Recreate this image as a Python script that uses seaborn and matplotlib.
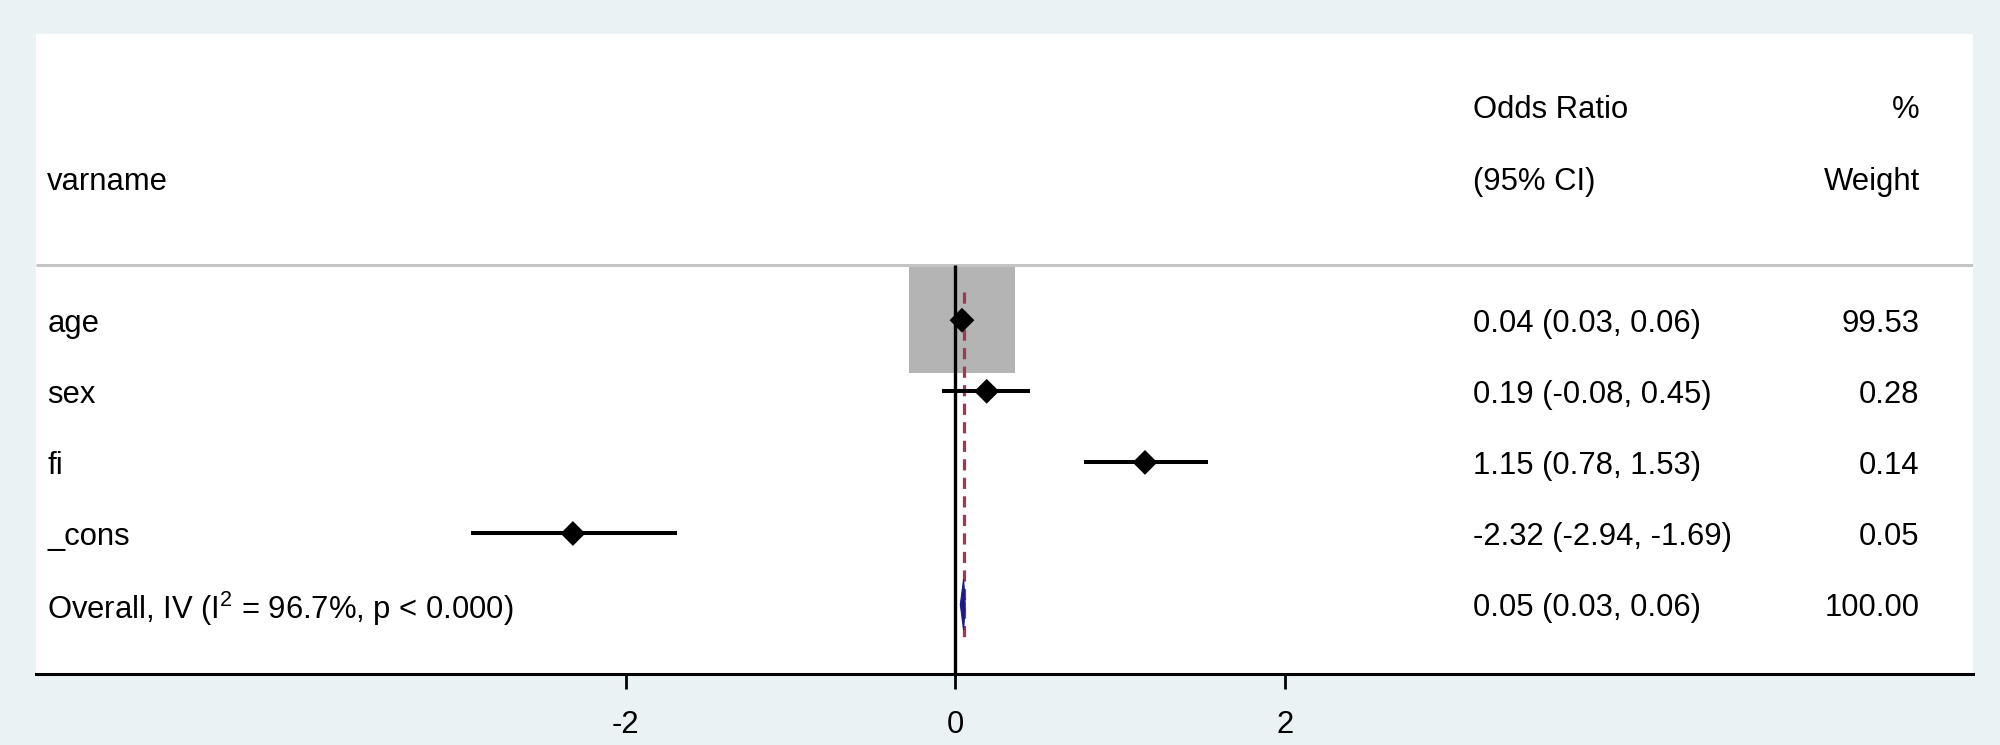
import matplotlib
matplotlib.use("Agg")
import matplotlib.pyplot as plt
from matplotlib.patches import Rectangle, Polygon
import seaborn as sns
import numpy as np
import pandas as pd

# study rows (coefficient estimates with 95% CI and % weight)
labels = ["age", "sex", "fi", "_cons"]
est = [0.04, 0.19, 1.15, -2.32]
lo = [0.03, -0.08, 0.78, -2.94]
hi = [0.06, 0.45, 1.53, -1.69]
weights = [99.53, 0.28, 0.14, 0.05]

# pooled estimate
overall_est = 0.05
overall_lo = 0.03
overall_hi = 0.06
overall_i2 = 96.7
overall_p = "0.000"

xticks = [-2, 0, 2]

sns.set_theme(style="white")
plt.rcParams["font.family"] = ["Liberation Sans", "DejaVu Sans"]
plt.rcParams["mathtext.fontset"] = "custom"
plt.rcParams["mathtext.rm"] = "Liberation Sans"
plt.rcParams["text.color"] = "black"
plt.rcParams["xtick.color"] = "black"
plt.rcParams["xtick.labelcolor"] = "black"

BG = "#EAF2F3"
FS = 22.3

fig = plt.figure(figsize=(20, 7.45), dpi=100, facecolor=BG)
ax = fig.add_axes([0.0179, 0.0959, 0.9687, 0.8579])
ax.set_facecolor("white")

xmin, xmax = -5.578, 6.174
ymin, ymax = -4.02, 4.97
ax.set_xlim(xmin, xmax)
ax.set_ylim(ymax, ymin)

rows = np.arange(len(labels))
df = pd.DataFrame({"label": labels, "est": est, "lo": lo, "hi": hi,
                   "weight": weights, "row": rows})
overall_row = len(labels)

# weight boxes (area proportional to weight)
p0 = ax.transData.transform((0, 0))
p1 = ax.transData.transform((1, 1))
px_x = p1[0] - p0[0]
px_y = abs(p1[1] - p0[1])
max_side = 106.0
for _, r in df.iterrows():
    side = max_side * np.sqrt(r["weight"] / max(weights))
    w = side / px_x
    h = side / px_y
    ax.add_patch(Rectangle((r["est"] - w / 2, r["row"] - h / 2), w, h,
                           facecolor="#B4B4B4", edgecolor="none", zorder=1))

# null line and overall dashed line
ax.vlines(0, -0.77, ymax, color="black", linewidth=2.4, zorder=2)
ax.vlines(overall_est, -0.39, overall_row + 0.47, color="#9E3A4F",
          linewidth=2.3, linestyles=(0, (3.5, 2.3)), zorder=3)

# confidence intervals
ax.hlines(df["row"], df["lo"], df["hi"], color="black", linewidth=2.9, zorder=4)
sns.scatterplot(data=df, x="est", y="row", marker="D", color="black",
                s=160, edgecolor="none", ax=ax, zorder=5, legend=False)

# overall diamond
dh = 0.36
ax.add_patch(Polygon([(overall_lo, overall_row), (overall_est, overall_row - dh),
                      (overall_hi, overall_row), (overall_est, overall_row + dh)],
                     closed=True, facecolor="#1A1A8C", edgecolor="#1A1A8C",
                     linewidth=0.8, zorder=5))

# separator under header
ax.hlines(-0.77, xmin, xmax, color="#C4C4C4", linewidth=2.2, zorder=1)

# text columns
x_lab = -5.509
x_ci = 3.141
x_wt = 5.849
VA = "center_baseline"
ax.text(x_lab, -2, "varname", fontsize=FS, va=VA, ha="left")
ax.text(x_ci, -3, "Odds Ratio", fontsize=FS, va=VA, ha="left")
ax.text(x_ci, -2, "(95% CI)", fontsize=FS, va=VA, ha="left")
ax.text(x_wt, -3, "%", fontsize=FS, va=VA, ha="right")
ax.text(x_wt, -2, "Weight", fontsize=FS, va=VA, ha="right")

for _, r in df.iterrows():
    ax.text(x_lab, r["row"], r["label"], fontsize=FS, va=VA, ha="left")
    ax.text(x_ci, r["row"], f"{r['est']:.2f} ({r['lo']:.2f}, {r['hi']:.2f})",
            fontsize=FS, va=VA, ha="left")
    ax.text(x_wt, r["row"], f"{r['weight']:.2f}", fontsize=FS, va=VA, ha="right")

ax.text(x_lab, overall_row,
        f"Overall, IV (I$^{{2}}$ = {overall_i2:.1f}%, p < {overall_p})",
        fontsize=FS, va=VA, ha="left")
ax.text(x_ci, overall_row, f"{overall_est:.2f} ({overall_lo:.2f}, {overall_hi:.2f})",
        fontsize=FS, va=VA, ha="left")
ax.text(x_wt, overall_row, f"{sum(weights):.2f}", fontsize=FS, va=VA, ha="right")

# axes styling
for s in ["top", "left", "right"]:
    ax.spines[s].set_visible(False)
ax.spines["bottom"].set_color("black")
ax.spines["bottom"].set_linewidth(2.2)
ax.set_xticks(xticks)
ax.set_xticklabels([str(t) for t in xticks])
ax.set_yticks([])
ax.tick_params(axis="x", direction="out", length=11, width=2, color="black",
               labelsize=FS, labelcolor="black", pad=15, bottom=True)
ax.set_xlabel("")
ax.set_ylabel("")

fig.savefig("out.png", dpi=100, facecolor=BG)
